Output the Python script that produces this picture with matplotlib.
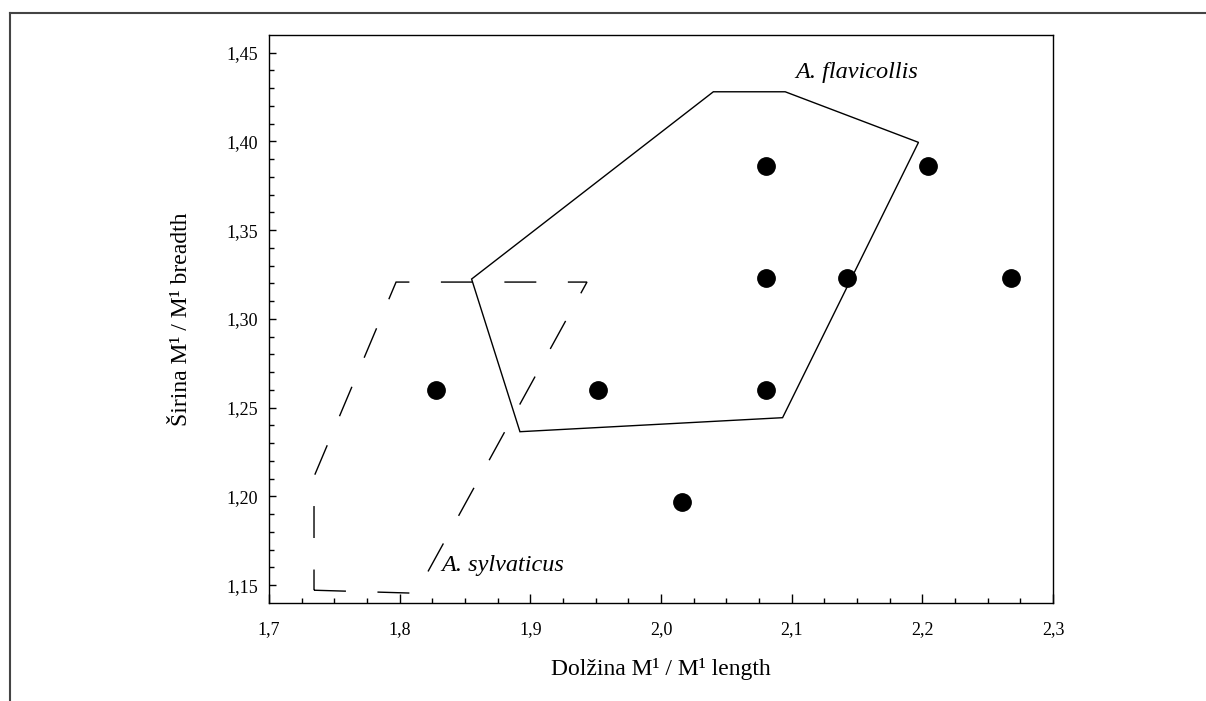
import numpy as np
import matplotlib.pyplot as plt
from matplotlib.lines import Line2D

plt.rcParams['font.family'] = ['Liberation Serif', 'DejaVu Serif']

# tocke (dolzina, sirina)
dolzina = [1.828, 1.952, 2.080, 2.080, 2.080, 2.142, 2.204, 2.268, 2.016]
sirina = [1.260, 1.260, 1.260, 1.323, 1.386, 1.323, 1.386, 1.323, 1.197]

# ovojnica A. flavicollis
flav_x = [1.855, 2.040, 2.095, 2.197, 2.093, 1.892]
flav_y = [1.3225, 1.428, 1.428, 1.3995, 1.2444, 1.2365]

# ovojnica A. sylvaticus
sylv_x = [1.7344, 1.8125, 1.9433, 1.7972, 1.7344]
sylv_y = [1.1472, 1.1455, 1.3208, 1.3208, 1.2112]

x_ticks = [1.7, 1.8, 1.9, 2.0, 2.1, 2.2, 2.3]
x_labels = ['1,7', '1,8', '1,9', '2,0', '2,1', '2,2', '2,3']
y_ticks = [1.15, 1.20, 1.25, 1.30, 1.35, 1.40, 1.45]
y_labels = ['1,15', '1,20', '1,25', '1,30', '1,35', '1,40', '1,45']

fig = plt.figure(figsize=(12.06, 7.01), dpi=100)
ax = fig.add_axes([0.2231, 0.1398, 0.6501, 0.8103])

# okvir okoli slike
fig.add_artist(Line2D([0.0083, 1.01], [0.9815, 0.9815], color='#444444', lw=1.5,
                      transform=fig.transFigure))
fig.add_artist(Line2D([0.0083, 0.0083], [-0.01, 0.9815], color='#444444', lw=1.5,
                      transform=fig.transFigure))

ax.fill(flav_x, flav_y, facecolor='none', edgecolor='black', lw=1.0)
ax.fill(sylv_x, sylv_y, facecolor='none', edgecolor='black', lw=1.0,
        linestyle=(0, (23, 22.7)))
ax.plot(dolzina, sirina, 'o', color='black', markersize=12.5, zorder=3)

ax.text(2.1024, 1.4388, 'A. flavicollis', style='italic', fontsize=17.5, va='center')
ax.text(1.8316, 1.1612, 'A. sylvaticus', style='italic', fontsize=17.5, va='center')

ax.set_xlim(1.7, 2.3)
ax.set_ylim(1.14, 1.46)
ax.set_xticks(x_ticks)
ax.set_xticklabels(x_labels)
ax.set_yticks(y_ticks)
ax.set_yticklabels(y_labels)
ax.set_xticks(np.arange(1.7, 2.3001, 0.025), minor=True)
ax.set_yticks(np.arange(1.15, 1.4501, 0.01), minor=True)
ax.tick_params(axis='x', which='major', direction='in', length=6.5, width=1, labelsize=13, pad=13)
ax.tick_params(axis='x', which='minor', direction='in', length=3.5, width=1)
ax.tick_params(axis='y', which='major', direction='in', length=5, width=1, labelsize=13, pad=8)
ax.tick_params(axis='y', which='minor', direction='in', length=3.5, width=1)
for s in ax.spines.values():
    s.set_linewidth(1.0)

ax.set_xlabel('Dolžina M¹ / M¹ length', fontsize=17)
ax.set_ylabel('Širina M¹ / M¹ breadth', fontsize=17)
ax.xaxis.set_label_coords(0.5, -0.097)
ax.yaxis.set_label_coords(-0.098, 0.5)

fig.savefig('out.png', dpi=100)
